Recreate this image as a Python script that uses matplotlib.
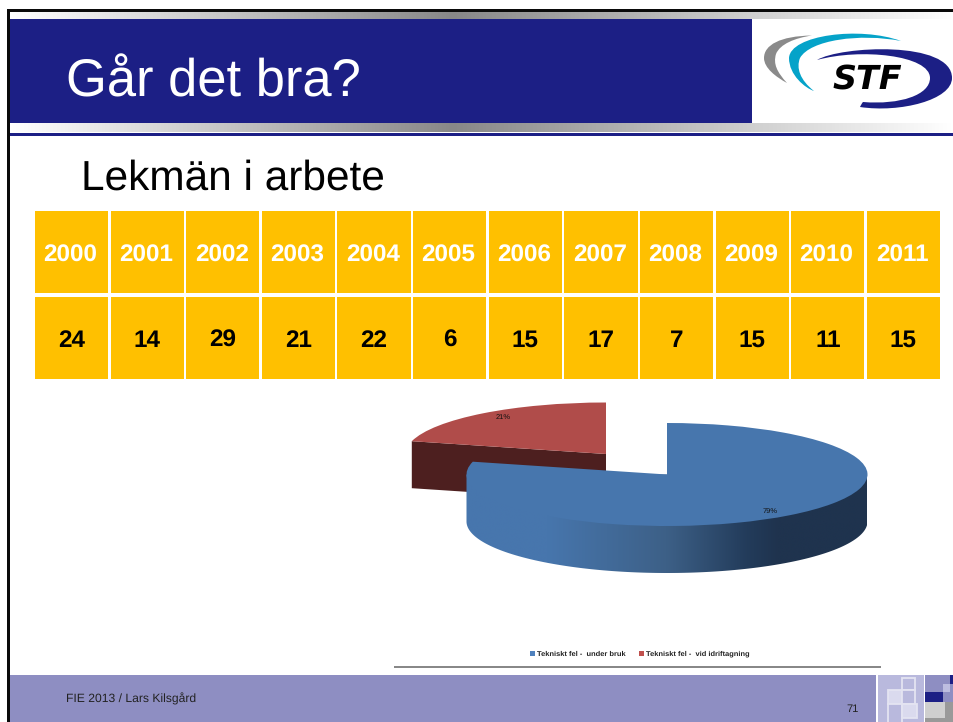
import numpy as np
import matplotlib
matplotlib.use('Agg')
import matplotlib.pyplot as plt
from matplotlib.colors import LinearSegmentedColormap
from matplotlib.patches import Rectangle, Wedge, Polygon, PathPatch
from matplotlib.path import Path
from matplotlib.transforms import Affine2D

plt.rcParams['font.family'] = ['Liberation Sans', 'DejaVu Sans']
plt.rcParams['text.hinting'] = 'no_hinting'
plt.rcParams['text.hinting_factor'] = 8

# data
years = ['2000', '2001', '2002', '2003', '2004', '2005', '2006', '2007', '2008', '2009', '2010', '2011']
counts = [24, 14, 29, 21, 22, 6, 15, 17, 7, 15, 11, 15]
pie_labels = ['Tekniskt fel -  under bruk', 'Tekniskt fel -  vid idriftagning']
pie_shares = [79, 21]

W, H = 954, 722
NAVY = '#1c1f85'
LAV = '#8e8ec2'
GOLD = '#ffc000'
BLUE = '#4776ad'

fig = plt.figure(figsize=(W / 100, H / 100), dpi=100)
ax = fig.add_axes([0, 0, 1, 1])
ax.set_xlim(0, W)
ax.set_ylim(H, 0)
ax.axis('off')


def rect(x0, y0, x1, y1, color, z=1, **kw):
    ax.add_patch(Rectangle((x0, y0), x1 - x0, y1 - y0, facecolor=color, edgecolor='none', zorder=z, **kw))


def grad(x0, y0, x1, y1, stops, z=1):
    cm = LinearSegmentedColormap.from_list('g', stops)
    g = np.linspace(0, 1, 512).reshape(1, -1)
    return ax.imshow(g, cmap=cm, extent=(x0, x1, y1, y0), aspect='auto', zorder=z, interpolation='bilinear')


def curve(points, color, z=6):
    # first point is the start, the rest are cubic bezier triples
    codes = [Path.MOVETO] + [Path.CURVE4] * (len(points) - 1)
    ax.add_patch(PathPatch(Path(points, codes), facecolor=color, edgecolor='none', zorder=z))


# slide frame and header
bar = [(0, '#ffffff'), (0.47, '#888888'), (1, '#ffffff')]
grad(10, 12, W, 19, bar)
grad(10, 123, W, 132, bar)
rect(7, 9, W, 12, '#0a0a0a', 5)
rect(7, 9, 10, H, '#0a0a0a', 5)
rect(10, 19, 752, 123, NAVY, 2)
rect(10, 133, W, 135.5, NAVY, 2)
ax.text(66, 96, 'Går det bra?', color='white', fontsize=37.8, va='baseline', ha='left', zorder=3)

# logo
curve([(812, 35.5), (780, 36), (764, 45), (764, 58), (764, 68), (776, 77), (787, 83),
       (777, 72), (773, 64), (776, 54), (780, 44), (795, 38), (812, 35.5)], '#8a8a8a')
curve([(901, 41), (860, 26), (790, 35), (789, 58), (789, 75), (805, 88), (814, 91),
       (800, 80), (796, 68), (800, 58), (810, 40), (860, 33), (901, 41)], '#05a3c9')
curve([(817, 60), (840, 46), (952, 40), (952, 78), (952, 100), (900, 113), (860, 107),
       (861, 105), (862, 103), (863, 102), (900, 105), (930, 95), (930, 78),
       (930, 55), (860, 48), (817, 60)], NAVY)
ax.text(867, 89, 'STF', color='black', fontsize=24, fontweight='bold', style='italic',
        family=['DejaVu Sans'], ha='center', va='baseline', zorder=7)

ax.text(81, 190, 'Lekmän i arbete', color='black', fontsize=30.5, va='baseline', ha='left', zorder=3)

# table
gap = 2.4
col_x = np.linspace(35, 940 + gap, len(years) + 1)
for i, (yr, n) in enumerate(zip(years, counts)):
    x0, x1 = col_x[i], col_x[i + 1] - gap
    rect(x0, 211, x1, 293, GOLD)
    rect(x0, 297, x1, 379, GOLD)
    ax.text((x0 + x1) / 2 - 1.2, 262, yr, color='white', fontsize=17.5, fontweight='bold',
            ha='center', va='baseline', zorder=3)
    ax.text((x0 + x1) / 2, 347, str(n), color='black', fontsize=17.5, fontweight='bold',
            ha='center', va='baseline', zorder=3)

# exploded 3d pie
rx, ry, depth = 200.5, 51.5, 47
bcx, bcy = 667, 474.5
rcx, rcy = 606, 454
total = sum(pie_shares)
sweep_b = 360 * pie_shares[0] / total
sweep_r = 360 * pie_shares[1] / total


def squashed(cx, cy):
    return Affine2D().scale(rx, -ry).translate(cx, cy) + ax.transData


# red slice: cut face first, top over it
end = np.radians(90 + sweep_r)
lx, ly = rcx + rx * np.cos(end), rcy - ry * np.sin(end)
ax.add_patch(Polygon([(lx, ly), (rcx, rcy), (rcx, rcy + depth), (lx, ly + depth)],
                     facecolor='#4d1f1f', edgecolor='none', zorder=2))
ax.add_patch(Wedge((0, 0), 1, 90, 90 + sweep_r, facecolor='#b04c4a', edgecolor='none',
                   transform=squashed(rcx, rcy), zorder=3))

# blue slice: shaded rim, top over it
t = np.linspace(0, np.pi, 200)
rim = np.c_[bcx + rx * np.cos(t), bcy + depth + ry * np.sin(t)]
rim = np.r_[[(bcx + rx, bcy)], rim, [(bcx - rx, bcy)]]
rim_patch = Polygon(rim, facecolor='none', edgecolor='none', zorder=4)
ax.add_patch(rim_patch)
im = grad(bcx - rx, bcy - 5, bcx + rx, bcy + ry + depth + 2,
          [(0, BLUE), (0.2, BLUE), (0.5, '#3d6087'), (0.7, '#233c5b'), (0.78, '#1f334e'), (1, '#1f334e')], 4)
im.set_clip_path(rim_patch)
ax.add_patch(Wedge((0, 0), 1, 90 - sweep_b, 90, facecolor=BLUE, edgecolor='none',
                   transform=squashed(bcx, bcy), zorder=5))

ax.text(503, 417, '%d%%' % pie_shares[1], fontsize=5.4, color='#111111', ha='center', va='center', zorder=6)
ax.text(770, 511, '%d%%' % pie_shares[0], fontsize=5.4, color='#111111', ha='center', va='center', zorder=6)

# legend below pie
rect(530, 651, 535, 656, '#4f81bd', 3)
ax.text(537, 656, pie_labels[0], fontsize=5.4, fontweight='bold', color='#222222', ha='left', va='baseline', zorder=3)
rect(639, 651, 644, 656, '#c0504d', 3)
ax.text(646, 656, pie_labels[1], fontsize=5.4, fontweight='bold', color='#222222', ha='left', va='baseline', zorder=3)
rect(394, 666, 881, 667.5, '#888888', 3)

# footer
rect(10, 675, 876, H, LAV)
ax.text(66, 703, 'FIE 2013 / Lars Kilsgård', fontsize=8.7, color='#222222', ha='left', va='baseline', zorder=3)
ax.text(853, 712, '71', fontsize=8, color='#222222', ha='center', va='baseline', zorder=3)

rect(878, 675, 924, H, '#b9b9dd')
for x0, y0, x1, y1, fc in [(902, 678, 915, 690, '#b9b9dd'), (888, 690, 902, 704, '#dadaee'),
                           (902, 690, 915, 704, '#b9b9dd'), (888, 704, 902, H + 2, '#b9b9dd'),
                           (902, 704, 917, 718, '#dadaee')]:
    ax.add_patch(Rectangle((x0, y0), x1 - x0, y1 - y0, facecolor=fc, edgecolor='#e4e4f2', lw=1.3, zorder=2))

rect(925, 675, W, 702, LAV)
rect(925, 702, W, H, '#999999')
rect(925, 702, 945, 718, '#cfcfcf', 2)
rect(925, 692, 943, 702, NAVY, 2)
rect(950, 675, W, 684, NAVY, 2)
rect(943, 684, 950, 692, '#bdbde0', 2)

ax.set_xlim(0, W)
ax.set_ylim(H, 0)
fig.savefig('out.png', dpi=100, facecolor='white')
